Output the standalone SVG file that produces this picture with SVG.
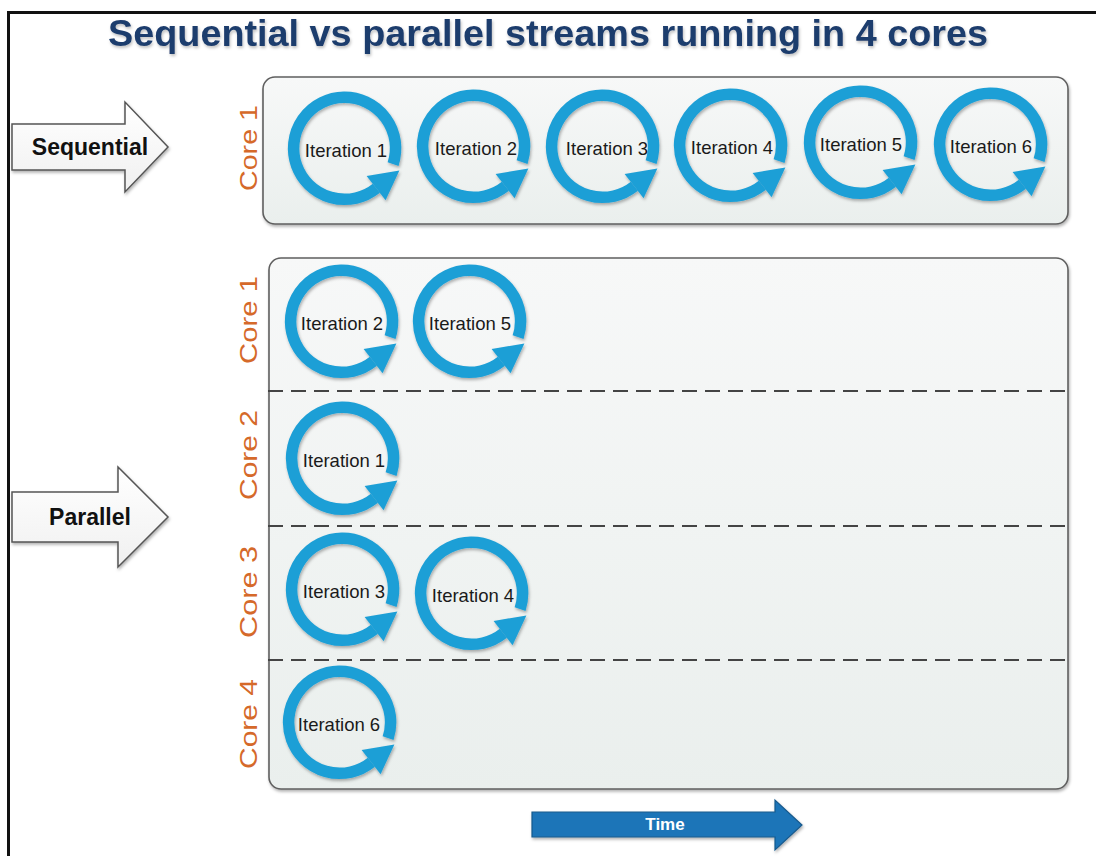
<svg xmlns="http://www.w3.org/2000/svg" width="1096" height="856" viewBox="0 0 1096 856">
<style>
.title{font-family:"Liberation Sans",Arial,sans-serif;font-weight:bold;font-size:37px;fill:#1f3d6d}
.lbl{font-family:"Liberation Sans",Arial,sans-serif;font-size:18.5px;fill:#1a1a1a;text-anchor:middle}
.core{font-family:"Liberation Sans",Arial,sans-serif;font-size:24px;fill:#d5692a;text-anchor:middle}
.arr{font-family:"Liberation Sans",Arial,sans-serif;font-weight:bold;font-size:23px;fill:#111;text-anchor:middle}
.box{stroke:#5f5f5f;stroke-width:1.6;fill:url(#boxg)}
.sep{stroke:#444;stroke-width:2;stroke-dasharray:15 8;fill:none}
.ring{fill:none;stroke:#1e9fd6;stroke-width:11.5}
</style>
<defs>
<linearGradient id="boxg" x1="0" y1="0" x2="0" y2="1">
<stop offset="0" stop-color="#f7f8f8"/><stop offset="1" stop-color="#eaefed"/>
</linearGradient>
<linearGradient id="arrg" x1="0" y1="0" x2="0" y2="1">
<stop offset="0" stop-color="#ffffff"/><stop offset="1" stop-color="#f0f0f0"/>
</linearGradient>
<filter id="sh" x="-10%" y="-10%" width="125%" height="130%">
<feDropShadow dx="1" dy="2" stdDeviation="1.5" flood-color="#000" flood-opacity="0.3"/>
</filter>
<filter id="tsh" x="-5%" y="-20%" width="110%" height="150%">
<feDropShadow dx="1" dy="2" stdDeviation="1.5" flood-color="#000" flood-opacity="0.25"/>
</filter>
<g id="loop" filter="url(#sh)">
<path class="ring" d="M48.1,16.1 A51,51 0 1 0 31.4,40.2"/>
<polygon points="54.4,22.4 40.6,52.2 21.6,28.0" fill="#1e9fd6"/>
</g>
</defs>
<rect width="1096" height="856" fill="#fff"/>
<path d="M8.5,856 V12.5 H1096" fill="none" stroke="#111" stroke-width="3"/>
<text class="title" x="548" y="46" text-anchor="middle" textLength="880" lengthAdjust="spacingAndGlyphs" filter="url(#tsh)">Sequential vs parallel streams running in 4 cores</text>

<g id="seq-arrow">
<polygon points="12,124 125,124 125,102 168,147 125,192 125,170 12,170" fill="url(#arrg)" stroke="#555" stroke-width="1.5" filter="url(#sh)"/>
<text class="arr" x="90" y="155">Sequential</text>
</g>
<g id="par-arrow">
<polygon points="12,492 118,492 118,467 168,517 118,567 118,542 12,542" fill="url(#arrg)" stroke="#555" stroke-width="1.5" filter="url(#sh)"/>
<text class="arr" x="90" y="525">Parallel</text>
</g>

<g id="seq-box">
<rect class="box" x="263" y="77" width="805" height="147" rx="12" filter="url(#sh)"/>
<text class="core" transform="translate(257,148) rotate(-90)" textLength="86" lengthAdjust="spacingAndGlyphs">Core 1</text>
</g>
<g id="par-box">
<rect class="box" x="269" y="258" width="799" height="531" rx="12" filter="url(#sh)"/>
<text class="core" transform="translate(257,320) rotate(-90)" textLength="88" lengthAdjust="spacingAndGlyphs">Core 1</text>
<text class="core" transform="translate(257,455) rotate(-90)" textLength="90" lengthAdjust="spacingAndGlyphs">Core 2</text>
<text class="core" transform="translate(257,592) rotate(-90)" textLength="92" lengthAdjust="spacingAndGlyphs">Core 3</text>
<text class="core" transform="translate(257,724) rotate(-90)" textLength="90" lengthAdjust="spacingAndGlyphs">Core 4</text>
</g>
<g id="separators">
<line class="sep" x1="268" y1="391" x2="1070" y2="391"/>
<line class="sep" x1="268" y1="526" x2="1070" y2="526"/>
<line class="sep" x1="268" y1="660" x2="1070" y2="660"/>
</g>

<g id="s1" transform="translate(345,148)"><use href="#loop"/><text class="lbl" x="1" y="9">Iteration 1</text></g>
<g id="s2" transform="translate(474,146)"><use href="#loop"/><text class="lbl" x="2" y="9">Iteration 2</text></g>
<g id="s3" transform="translate(603,146)"><use href="#loop"/><text class="lbl" x="4" y="9">Iteration 3</text></g>
<g id="s4" transform="translate(731,145)"><use href="#loop"/><text class="lbl" x="1" y="9">Iteration 4</text></g>
<g id="s5" transform="translate(861,142)"><use href="#loop"/><text class="lbl" x="0" y="9">Iteration 5</text></g>
<g id="s6" transform="translate(991,144)"><use href="#loop"/><text class="lbl" x="0" y="9">Iteration 6</text></g>

<g id="p2" transform="translate(342,321)"><use href="#loop"/><text class="lbl" x="0" y="9">Iteration 2</text></g>
<g id="p5" transform="translate(470,321)"><use href="#loop"/><text class="lbl" x="0" y="9">Iteration 5</text></g>
<g id="p1" transform="translate(343,458)"><use href="#loop"/><text class="lbl" x="1" y="9">Iteration 1</text></g>
<g id="p3" transform="translate(343,589)"><use href="#loop"/><text class="lbl" x="1" y="9">Iteration 3</text></g>
<g id="p4" transform="translate(472,593)"><use href="#loop"/><text class="lbl" x="1" y="9">Iteration 4</text></g>
<g id="p6" transform="translate(340,722)"><use href="#loop"/><text class="lbl" x="-1" y="9">Iteration 6</text></g>

<g id="time-arrow">
<polygon points="532,812 775,812 775,800 802,825 775,850 775,837 532,837" fill="#1b74b8" stroke="#1a5a8c" stroke-width="1.2" filter="url(#sh)"/>
<text x="665" y="830" text-anchor="middle" font-family="Liberation Sans, Arial, sans-serif" font-weight="bold" font-size="17" fill="#fff">Time</text>
</g>
</svg>
